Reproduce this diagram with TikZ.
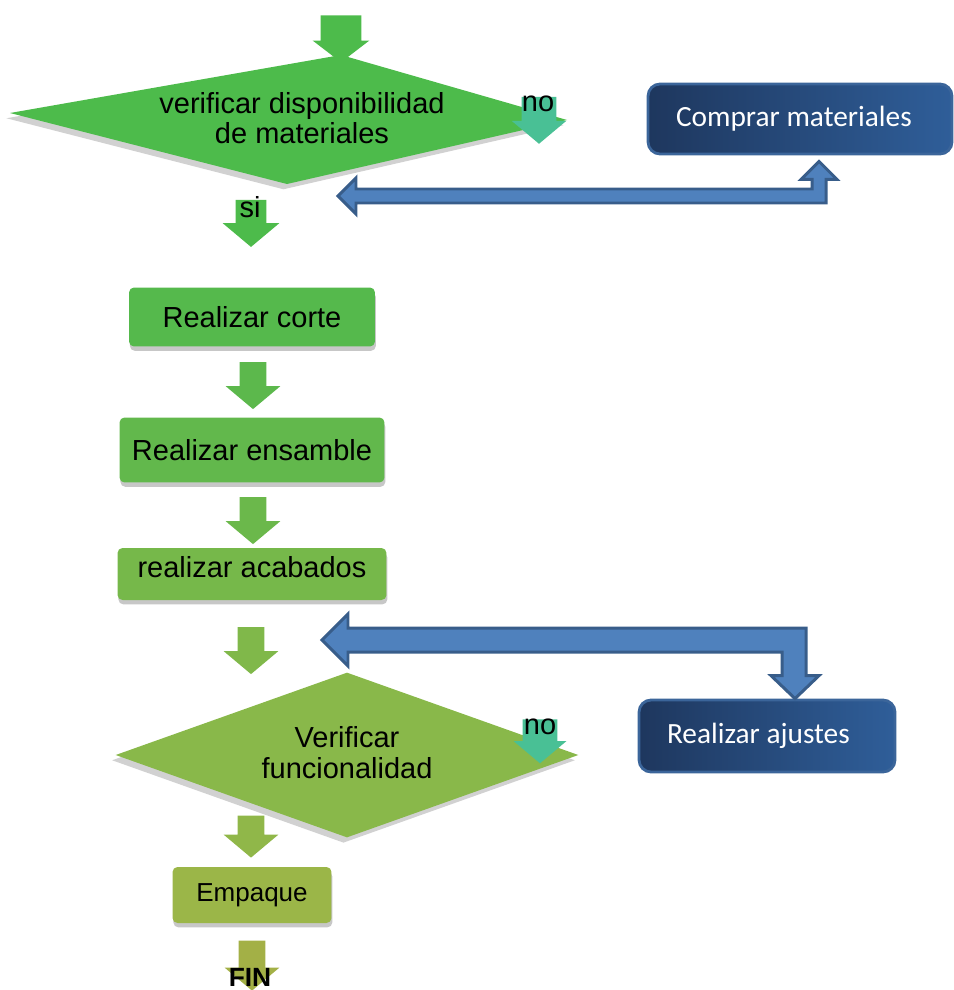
\documentclass[tikz,border=0pt]{standalone}
\usepackage{fontspec}
\setmainfont{Liberation Sans}
\newfontfamily\calibri{Carlito}
\usetikzlibrary{shapes.arrows, shapes.geometric, shadows, calc}

\definecolor{verdeA}{HTML}{4DBB4B}
\definecolor{verdeB}{HTML}{55B94C}
\definecolor{verdeC}{HTML}{5CB84C}
\definecolor{verdeD}{HTML}{62B84C}
\definecolor{verdeE}{HTML}{6BB84B}
\definecolor{verdeF}{HTML}{76B84A}
\definecolor{verdeG}{HTML}{80B84A}
\definecolor{verdeH}{HTML}{89B84A}
\definecolor{verdeI}{HTML}{90B749}
\definecolor{verdeJ}{HTML}{9BB648}
\definecolor{verdeK}{HTML}{A3B046}
\definecolor{turquesa}{HTML}{49C095}
\definecolor{azulosc}{HTML}{1E375E}
\definecolor{azulcla}{HTML}{2F5E99}
\definecolor{azulborde}{HTML}{3B659A}
\definecolor{azulflecha}{HTML}{4F81BD}
\definecolor{azulflechaborde}{HTML}{385D8A}

\tikzset{
  texto/.style={inner sep=0pt, font=\fontsize{16.5}{17}\selectfont},
  paso/.style={rounded corners=0.1cm, inner sep=0pt, font=\fontsize{16.5}{19}\selectfont,
    drop shadow={shadow xshift=0.5pt, shadow yshift=-2.5pt, fill=black, opacity=0.22}},
  caja/.style={rounded corners=0.24cm, inner xsep=0.56cm, inner ysep=0pt, align=flush left,
    draw=azulborde, line width=1.6pt, left color=azulosc, right color=azulcla,
    text=white, font=\calibri\fontsize{16.7}{20}\selectfont},
  flechaverde/.style={single arrow, rotate=-90, inner xsep=0pt, inner ysep=0.26cm,
    single arrow head extend=0.28cm, single arrow tip angle=100, minimum height=0.94cm},
  flechazul/.style={fill=azulflecha, draw=azulflechaborde, line width=1.7pt, line join=miter},
  sombra/.style={drop shadow={shadow xshift=-2pt, shadow yshift=-3pt, fill=black, opacity=0.18}},
}

\begin{document}
\begin{tikzpicture}[x=0.02cm, y=-0.02cm]
\useasboundingbox (0,0) rectangle (953,990);

% Inicio
\node[flechaverde, fill=verdeA, inner ysep=0.4cm, single arrow head extend=0.16cm, single arrow tip angle=105] (f0) at (341,31) {};

% Rombo 1
\fill[verdeA, sombra] (10,113) -- (341,55) -- (567,120) -- (287,184) -- cycle;
\node[texto, align=center] (verif) at (302,118) {verificar disponibilidad\\de materiales};
\node[flechaverde, fill=turquesa, inner ysep=0.34cm, single arrow head extend=0.2cm] (fno1) at (539,113) {};
\node[texto] (no1) at (538,104) {no};

% Comprar
\node[caja, minimum width=6.08cm, minimum height=1.4cm, text width=4.96cm] (comprar) at (800,119) {Comprar materiales};
\coordinate (c1) at ($(comprar.south)+(19,6)$);
\coordinate (r1) at (338,196);
\draw[flechazul] (c1) -- ++(18,18) -- ++(-11,0) |- ($(r1)+(18,7)$) -- ++(0,11) -- (r1)
  -- ++(18,-18) -- ++(0,11) -| ($(c1)+(-7,18)$) -- ++(-11,0) -- cycle;

% Si
\node[flechaverde, fill=verdeA, inner ysep=0.3cm, single arrow head extend=0.26cm] (fsi) at (251,217) {};
\node[texto] (si) at (250,207) {si};

% Pasos
\node[paso, fill=verdeB, minimum width=4.92cm, minimum height=1.18cm] (corte) at (252,317) {Realizar corte};
\node[flechaverde, fill=verdeC] (f2) at (253,380) {};
\node[paso, fill=verdeD, minimum width=5.3cm, minimum height=1.3cm] (ensamble) at (252,450) {Realizar ensamble};
\node[flechaverde, fill=verdeE] (f3) at (253,515) {};
\node[paso, fill=verdeF, minimum width=5.38cm, minimum height=1.04cm, text depth=0.3cm] (acabados) at (252,574) {realizar acabados};
\node[flechaverde, fill=verdeG] (f4) at (251,645) {};

% Rombo 2
\node[diamond, fill=verdeH, sombra, inner sep=0pt, minimum width=9.26cm, minimum height=3.3cm] (funcion) at (347,755) {};
\node[texto, align=center, font=\fontsize{16.5}{17.5}\selectfont] (verif2) at (347,753) {Verificar\\funcionalidad};
\node[flechaverde, fill=turquesa, inner ysep=0.34cm, single arrow head extend=0.18cm, minimum height=0.88cm] (fno2) at (540,734) {};
\node[texto] (no2) at (540,727) {no};

% Ajustes
\node[caja, minimum width=5.12cm, minimum height=1.44cm, text width=4cm] (ajustes) at (767,736) {Realizar ajustes};
\coordinate (c2) at ($(ajustes.north)+(28,0)$);
\coordinate (r2) at (322,640);
\draw[flechazul] (c2) -- ++(24,-23) -- ++(-13,0) |- ($(r2)+(26,-12)$) -- ++(0,-14) -- (r2)
  -- ++(26,26) -- ++(0,-14) -| ($(c2)+(-13,-23)$) -- ++(-11,0) -- cycle;

% Final
\node[flechaverde, fill=verdeI, minimum height=0.84cm] (f5) at (251,831) {};
\node[paso, fill=verdeJ, minimum width=3.18cm, minimum height=1.12cm, font=\fontsize{14.8}{17}\selectfont] (empaque) at (252,895) {Empaque};
\node[flechaverde, fill=verdeK, minimum height=1cm] (f6) at (252,960) {};
\node[inner sep=0pt, font=\fontsize{15}{17}\selectfont\bfseries] (fin) at (250,977) {FIN};

\end{tikzpicture}
\end{document}
